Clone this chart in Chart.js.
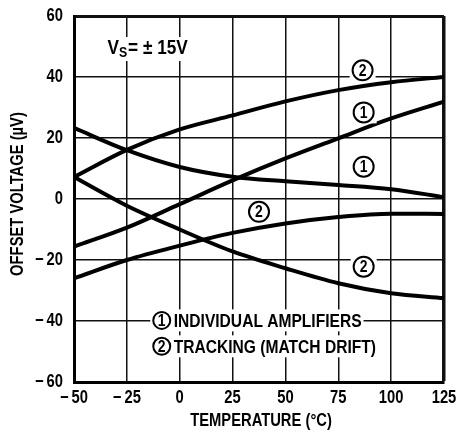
<!DOCTYPE html>
<html lang="en">
<head>
<meta charset="UTF-8">
<title>Offset Voltage vs Temperature</title>
<style>
    body { margin: 0; background-color: #fff; }
    canvas { display: block; }
</style>
<script src="https://cdn.jsdelivr.net/npm/chart.js"></script>
</head>
<body>
<canvas id="offsetChart" width="459" height="433"></canvas>
<script>
// temperature (°C) and offset voltage (µV)
const temps = [-50, -25, 0, 25, 50, 75, 100, 125];
const indivRise = [-15.6, -9.4, -1.7, 6.1, 13.3, 19.9, 26.4, 31.9];
const indivFall = [23.3, 16.0, 10.5, 7.3, 5.8, 4.6, 3.2, 0.6];
const trackUpper = [7.2, 16.1, 22.8, 27.4, 32.0, 35.7, 38.3, 40.0];
const trackMid = [-26.0, -20.0, -15.3, -11.1, -8.0, -5.9, -4.8, -4.9];
const trackLower = [7.2, -2.2, -10.0, -17.2, -22.7, -27.6, -30.9, -32.5];

const xTickLabels = ["\u2212\u200950", "\u2212\u200925", "0", "25", "50", "75", "100", "125"];
const yTickLabels = ["\u2212\u200960", "\u2212\u200940", "\u2212\u200920", "0", "20", "40", "60"];
const xTitle = "TEMPERATURE (\u00b0C)";
const yTitle = "OFFSET VOLTAGE (\u00b5V)";

// circled curve markers: digit, temperature, voltage
const markers = [
    ["2", 86.5, 42.2],
    ["1", 87, 28.4],
    ["1", 87, 10.6],
    ["2", 37.5, -4.2],
    ["2", 87, -22.2]
];
const keyRows = [
    ["1", "INDIVIDUAL AMPLIFIERS", -8.5, -39.8],
    ["2", "TRACKING (MATCH DRIFT)", -8.5, -48.3]
];

// the printed face is a condensed grotesque; squeeze Liberation Sans to match
const FAMILY = "'Liberation Sans', Arial, sans-serif";
const SQUEEZE = 0.82;

function narrow(ctx, text, x, y, size, align, rot) {
    ctx.save();
    ctx.translate(x, y);
    if (rot) ctx.rotate(rot);
    ctx.scale(SQUEEZE, 1);
    ctx.font = "bold " + size + "px " + FAMILY;
    ctx.textAlign = align;
    ctx.textBaseline = "middle";
    ctx.fillStyle = "#000";
    ctx.fillText(text, 0, 0);
    ctx.restore();
}

function narrowWidth(ctx, text, size) {
    ctx.save();
    ctx.font = "bold " + size + "px " + FAMILY;
    const w = ctx.measureText(text).width * SQUEEZE;
    ctx.restore();
    return w;
}

function series(values) {
    return {
        data: values.map((v, i) => ({ x: temps[i], y: v })),
        borderColor: "#000",
        borderWidth: 4,
        pointRadius: 0,
        cubicInterpolationMode: "monotone",
        fill: false
    };
}

function circled(ctx, cx, cy, digit, r) {
    ctx.fillStyle = "#fff";
    ctx.fillRect(cx - r - 3, cy - r - 1, 2 * r + 6, 2 * r + 2);
    ctx.beginPath();
    ctx.arc(cx, cy, r, 0, Math.PI * 2);
    ctx.lineWidth = 2;
    ctx.strokeStyle = "#000";
    ctx.stroke();
    narrow(ctx, digit, cx, cy + 1, 17, "center");
}

const notes = {
    id: "notes",
    afterDraw(chart) {
        const ctx = chart.ctx;
        const xs = chart.scales.x, ys = chart.scales.y;
        const area = chart.chartArea;
        ctx.save();

        // axis tick labels and titles
        xs.ticks.forEach((t, i) => {
            narrow(ctx, xTickLabels[i], xs.getPixelForValue(t.value), area.bottom + 16, 18, "center");
        });
        ys.ticks.forEach((t, i) => {
            narrow(ctx, yTickLabels[i], area.left - 11, ys.getPixelForValue(t.value), 18, "right");
        });
        narrow(ctx, xTitle, (area.left + area.right) / 2 + 2, area.bottom + 39, 18, "center");
        narrow(ctx, yTitle, 18, (area.top + area.bottom) / 2 - 5, 18, "center", -Math.PI / 2);

        // curve markers
        markers.forEach(m => {
            circled(ctx, xs.getPixelForValue(m[1]), ys.getPixelForValue(m[2]), m[0], 10);
        });

        // key
        keyRows.forEach(k => {
            const cx = xs.getPixelForValue(k[2]);
            const cy = ys.getPixelForValue(k[3]);
            const w = narrowWidth(ctx, k[1], 19);
            ctx.fillStyle = "#fff";
            ctx.fillRect(cx + 8, cy - 11, w + 6, 22);
            circled(ctx, cx, cy, k[0], 8.5);
            narrow(ctx, k[1], cx + 12, cy + 1, 19, "left");
        });

        // supply voltage note
        const vx = xs.getPixelForValue(-34.2);
        const vy = ys.getPixelForValue(49.5);
        ctx.fillStyle = "#fff";
        ctx.fillRect(vx - 3, vy - 11, 90, 24);
        narrow(ctx, "V", vx, vy, 21, "left");
        let w = narrowWidth(ctx, "V", 21);
        narrow(ctx, "S", vx + w, vy + 5, 15, "left");
        w += narrowWidth(ctx, "S", 15) + 1;
        narrow(ctx, "= \u00b1 15V", vx + w, vy, 21, "left");
        ctx.restore();
    }
};

const ctx = document.getElementById("offsetChart").getContext("2d");
new Chart(ctx, {
    type: "line",
    data: {
        datasets: [
            series(trackUpper),
            series(indivRise),
            series(indivFall),
            series(trackMid),
            series(trackLower)
        ]
    },
    options: {
        responsive: false,
        animation: false,
        layout: { padding: { top: 16, right: 15, left: 0, bottom: 0 } },
        plugins: {
            legend: { display: false },
            tooltip: { enabled: false }
        },
        scales: {
            x: {
                type: "linear",
                min: -50,
                max: 125,
                afterFit: s => { s.height = 51; },
                border: { width: 3, color: "#000" },
                grid: {
                    color: "#111",
                    drawTicks: false,
                    lineWidth: c => (c.tick && c.tick.value === 125 ? 3.5 : 1.5)
                },
                ticks: { stepSize: 25, display: false }
            },
            y: {
                min: -60,
                max: 60,
                afterFit: s => { s.width = 74; },
                border: { width: 3, color: "#000" },
                grid: {
                    color: "#111",
                    drawTicks: false,
                    lineWidth: c => (c.tick && c.tick.value === 60 ? 3 : 1.5)
                },
                ticks: { stepSize: 20, display: false }
            }
        }
    },
    plugins: [notes]
});
</script>
</body>
</html>
